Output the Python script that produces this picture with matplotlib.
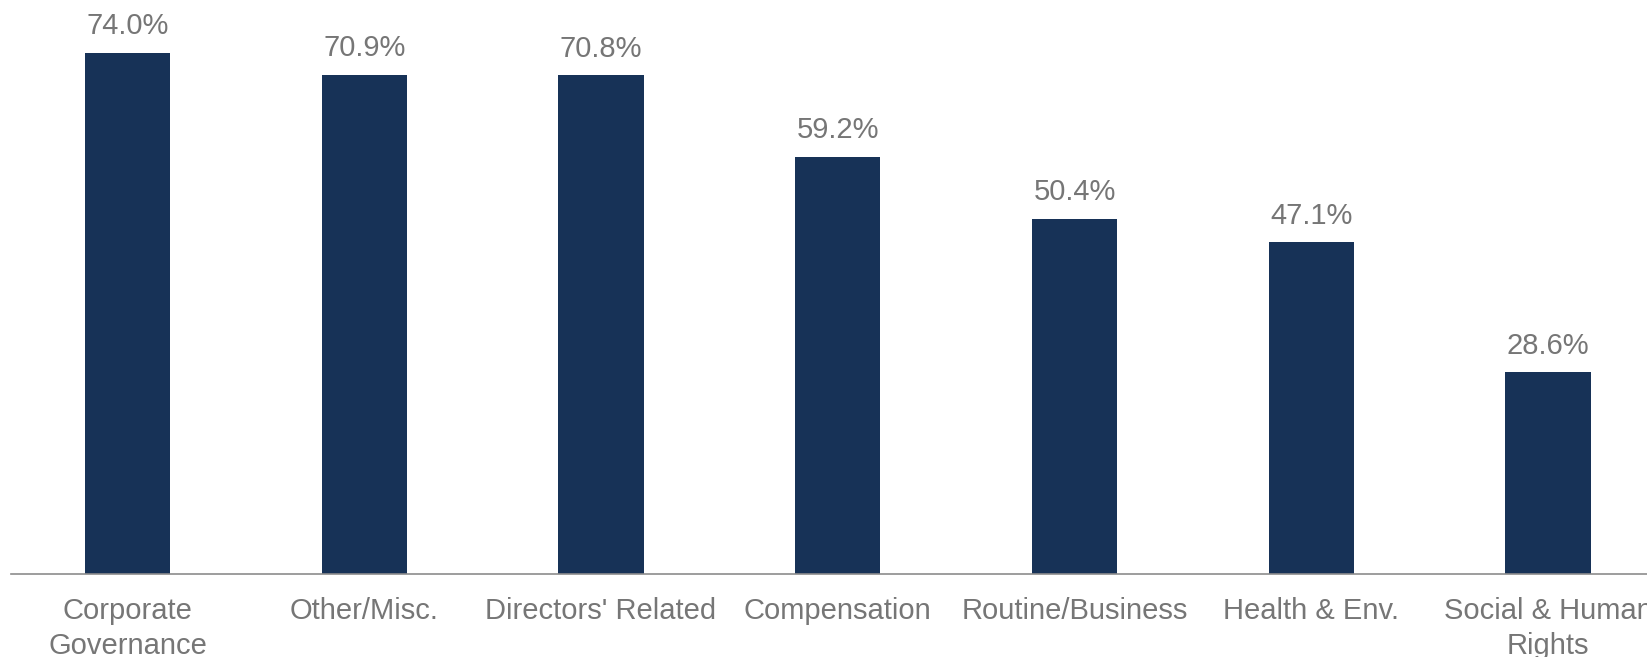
import matplotlib
matplotlib.use("Agg")
import matplotlib.pyplot as plt
import numpy as np

categories = ["Corporate\nGovernance", "Other/Misc.", "Directors' Related", "Compensation",
              "Routine/Business", "Health & Env.", "Social & Human\nRights"]
values = [74.0, 70.9, 70.8, 59.2, 50.4, 47.1, 28.6]

bar_color = "#173257"
text_color = "#767676"

plt.rcParams['font.family'] = ['Liberation Sans', 'DejaVu Sans']

fig = plt.figure(figsize=(16.47, 6.57), dpi=100)
ax = fig.add_axes([10.5 / 1647, 1 - 573.5 / 657, 1 - 10.5 / 1647, 573.5 / 657])

x = np.arange(len(categories))
bars = ax.bar(x, values, width=0.36, color=bar_color)

for xi, v in zip(x, values):
    ax.annotate(f"{v:.1f}%", xy=(xi, v), xytext=(0, 9), textcoords="offset points",
                ha="center", va="bottom", fontsize=21, color=text_color)

ax.set_xlim(-0.494, 6.418)
ax.set_ylim(0, 81.5)
ax.set_xticks(x)
ax.set_xticklabels(categories, fontsize=21, color=text_color, linespacing=1.3)
ax.tick_params(axis="x", length=0, pad=17)
ax.set_yticks([])
for s in ["top", "right", "left"]:
    ax.spines[s].set_visible(False)
ax.spines["bottom"].set_color("#8c8c8c")
ax.spines["bottom"].set_linewidth(1.2)

fig.savefig("out.png", dpi=100)
